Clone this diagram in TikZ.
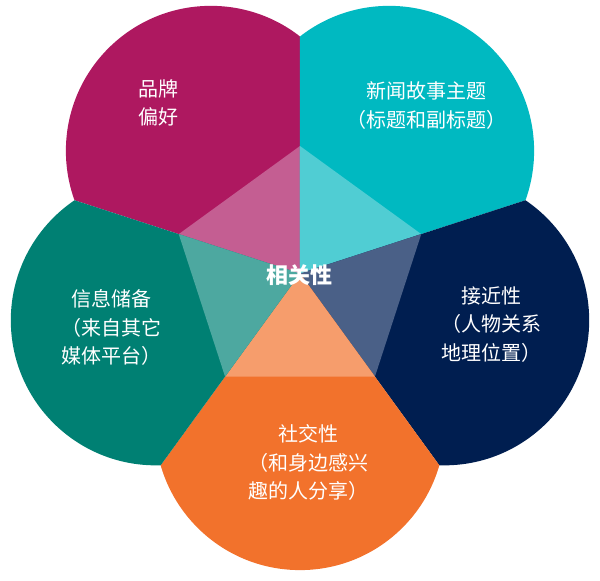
\documentclass[tikz,border=0pt]{standalone}
\usepackage{fontspec}
\setmainfont{Noto Sans CJK SC}
\usepackage{tikz}
\usetikzlibrary{positioning}
\definecolor{brandpink}{RGB}{174, 24, 96}
\definecolor{brandpinklt}{RGB}{196, 94, 146}
\definecolor{newscyan}{RGB}{0, 185, 193}
\definecolor{newscyanlt}{RGB}{80, 205, 211}
\definecolor{nearnavy}{RGB}{0, 30, 80}
\definecolor{nearnavylt}{RGB}{74, 96, 135}
\definecolor{socialorange}{RGB}{242, 114, 44}
\definecolor{socialorangelt}{RGB}{246, 157, 108}
\definecolor{storeteal}{RGB}{0, 128, 115}
\definecolor{storetteallt}{RGB}{77, 168, 160}
\tikzset{
  petaltext/.style = {text=white, align=center, font=\fontsize{20}{28.5}\selectfont},
  coretext/.style  = {text=white, font=\fontsize{22}{26}\selectfont\bfseries},
}

\begin{document}
\begin{tikzpicture}[x=1pt, y=1pt]
  \useasboundingbox (-300,-307.5) rectangle (300,273.5);

  % petals and inner triangles
  \foreach \a/\col/\lcol in {126/brandpink/brandpinklt, 54/newscyan/newscyanlt, -18/nearnavy/nearnavylt, -90/socialorange/socialorangelt, 198/storeteal/storetteallt} {
    \begin{scope}
      \clip (0,0) -- (\a-36:400) -- (\a:400) -- (\a+36:400) -- cycle;
      \fill[\col] (\a:151.6) circle[radius=145];
    \end{scope}
    \fill[\lcol] (0,0) -- (\a-36:127.5) -- (\a+36:127.5) -- cycle;
  }

  \node[coretext] (core) at (0,-1.5) {相关性};

  \node[petaltext] (brandtext)  at (-141,170.5) {品牌\\偏好};
  \node[petaltext] (newstext)   at (126.7,168) {新闻故事主题\\（标题和副标题）};
  \node[petaltext] (neartext)   at (191,-51) {接近性\\（人物关系\\地理位置）};
  \node[petaltext] (socialtext) at (9,-189) {社交性\\（和身边感兴\\趣的人分享）};
  \node[petaltext] (storetext)  at (-188,-54) {信息储备\\（来自其它\\媒体平台）};
\end{tikzpicture}
\end{document}
